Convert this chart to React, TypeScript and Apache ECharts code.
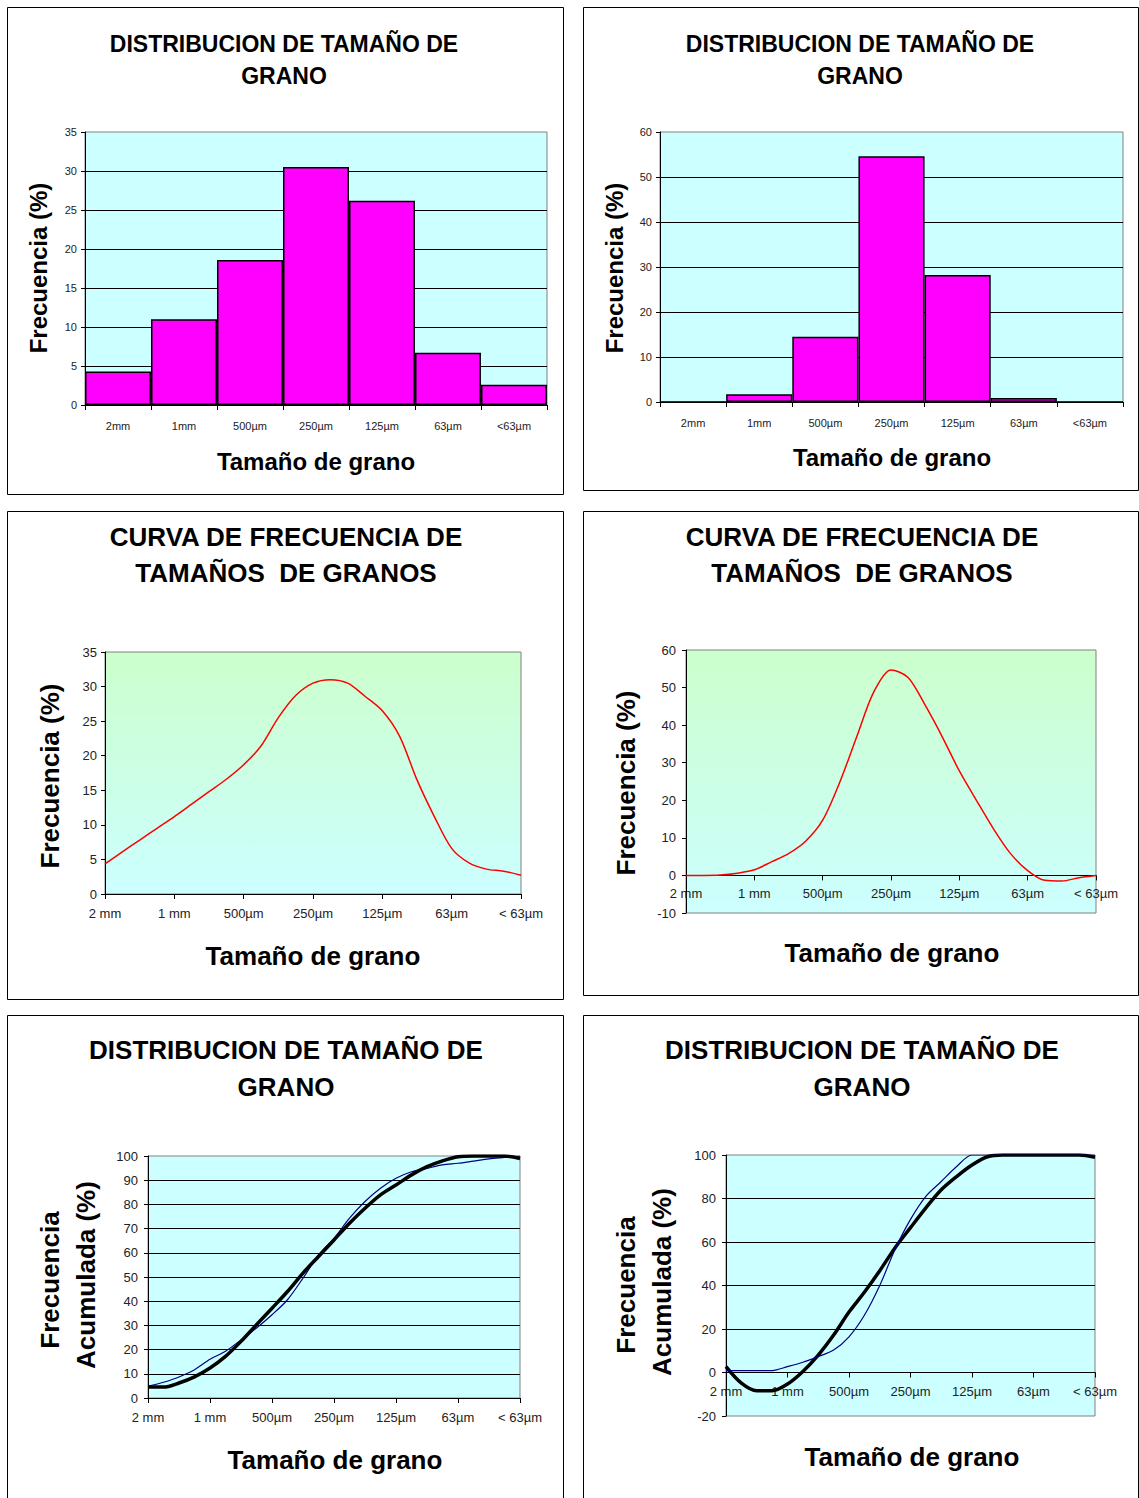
import React, { useEffect, useRef } from "react";
import * as echarts from "echarts";

const CATS_BAR = ["2mm", "1mm", "500µm", "250µm", "125µm", "63µm", "<63µm"];
const CATS_LINE = ["2 mm", "1 mm", "500µm", "250µm", "125µm", "63µm", "< 63µm"];

// bar heights (%)
const FREQ_A = [4.3, 11, 18.6, 30.5, 26.2, 6.7, 2.6];
const FREQ_B = [0, 1.7, 14.5, 54.6, 28.2, 0.9, 0];

// curve readings at quarter-category positions
const STEP_X = [0, 0.25, 0.5, 0.75, 1, 1.25, 1.5, 1.75, 2, 2.25, 2.5, 2.75, 3, 3.25, 3.5, 3.75, 4, 4.25, 4.5, 4.75, 5, 5.25, 5.5, 5.75, 6];
const RED_A = [4.35, 6.1, 7.8, 9.5, 11.2, 13.0, 14.8, 16.6, 18.7, 21.4, 25.5, 28.7, 30.5, 31.0, 30.5, 28.6, 26.5, 22.8, 16.5, 11.2, 6.6, 4.5, 3.6, 3.3, 2.7];
const RED_B = [0, 0, 0.1, 0.6, 1.5, 3.6, 5.8, 9.1, 14.7, 24.8, 37, 48.9, 54.7, 52.7, 45.3, 36.9, 27.8, 20, 12.4, 5.8, 1.3, -1.3, -1.5, -0.6, 0];
const BLUE_A = [4.8, 6.5, 8.7, 11.7, 16, 19.3, 24, 28.9, 34.4, 40.6, 49.5, 59.1, 66, 74.3, 81.2, 86.7, 90.8, 93.5, 94.9, 96.3, 97, 97.9, 98.8, 99.4, 100];
const BLUE_B = [0.9, 0.9, 0.9, 0.9, 2.7, 4.7, 7.3, 10.3, 16.4, 26.3, 40, 56.7, 70.4, 81, 87.8, 94.7, 100, 100, 100, 100, 100, 100, 100, 100, 100];
const TREND_A = [4.5, 4.5, 6.2, 8.7, 12.4, 17.2, 23.4, 30.3, 37.1, 44, 51.6, 58.5, 65.3, 72.2, 78.4, 83.9, 88, 92.2, 95.6, 98, 99.7, 100, 100, 100, 99];
const TREND_B = [2.7, -4.9, -8.4, -8.4, -5.3, 0.5, 8, 17.2, 27.8, 36.9, 46.8, 57.4, 66.6, 75.7, 84, 90.1, 95.4, 99.2, 100, 100, 100, 100, 100, 100, 99];

const FONT = '"Liberation Sans", Arial, sans-serif';

export default function App() {
  const ref = useRef<HTMLDivElement>(null);
  useEffect(() => {
    document.body.style.margin = "0";
    const chart = echarts.init(ref.current!, null, { renderer: "svg" });

    const grids = [
      { left: 85, top: 132, width: 462, height: 273 },
      { left: 660, top: 132, width: 463, height: 270 },
      { left: 105, top: 652, width: 416, height: 242 },
      { left: 686, top: 650, width: 410, height: 263 },
      { left: 148, top: 1156, width: 372, height: 242 },
      { left: 726, top: 1155, width: 369, height: 261 },
    ];
    const cyan = "#ccffff";
    const grad = () =>
      new echarts.graphic.LinearGradient(0, 0, 0, 1, [
        { offset: 0, color: "#ccffcc" },
        { offset: 1, color: "#ccffff" },
      ]);
    const bgs = [cyan, cyan, grad(), grad(), cyan, cyan];

    const grid = grids.map((g, i) => ({
      ...g,
      show: true,
      backgroundColor: bgs[i],
      borderColor: "#808080",
      borderWidth: 1,
      outerBoundsMode: "none",
    }));

    const axisLine = { show: true, onZero: false, lineStyle: { color: "#000", width: 1 } };
    const tick = { show: true, length: 4, lineStyle: { color: "#000" } };

    const barX = (gi: number, margin: number) => ({
      type: "category",
      gridIndex: gi,
      data: CATS_BAR,
      axisLine,
      axisTick: { show: true, length: 5, alignWithLabel: false, lineStyle: { color: "#000" } },
      axisLabel: { fontSize: 11, color: "#222", margin, fontFamily: FONT, interval: 0 },
      splitLine: { show: false },
    });
    // offset: distance (px) from grid bottom up to the zero line
    const lineX = (gi: number, margin: number, offset: number) => ({
      type: "value",
      gridIndex: gi,
      position: "bottom",
      offset: -offset,
      min: 0,
      max: 6,
      interval: 1,
      axisLine,
      axisTick: { show: true, length: 5, lineStyle: { color: "#000" } },
      axisLabel: {
        fontSize: 13,
        color: "#222",
        margin,
        fontFamily: FONT,
        formatter: (v: number) => CATS_LINE[Math.round(v)] ?? "",
        showMinLabel: true,
        showMaxLabel: true,
      },
      splitLine: { show: false },
    });
    const valY = (gi: number, min: number, max: number, interval: number, fontSize: number, margin: number, split: boolean) => ({
      type: "value",
      gridIndex: gi,
      min,
      max,
      interval,
      axisLine,
      axisTick: tick,
      axisLabel: { fontSize, color: "#222", margin, fontFamily: FONT },
      splitLine: { show: split, showMinLine: false, showMaxLine: false, lineStyle: { color: "#000", width: 1 } },
    });

    const z4 = (263 * 10) / 70;
    const z6 = (261 * 20) / 120;
    const xAxis = [barX(0, 15), barX(1, 15), lineX(2, 13, 0), lineX(3, 12, z4), lineX(4, 13, 0), lineX(5, 12, z6)];
    const yAxis = [
      valY(0, 0, 35, 5, 11, 8, true),
      valY(1, 0, 60, 10, 11, 8, true),
      valY(2, 0, 35, 5, 13, 8, false),
      valY(3, -10, 60, 10, 13, 10, false),
      valY(4, 0, 100, 10, 13, 10, true),
      valY(5, -20, 100, 20, 13, 10, true),
    ];

    const barStyle = { color: "#ff00ff", borderColor: "#000", borderWidth: 1.5 };
    const q = (arr: number[]) => arr.map((v, i) => [STEP_X[i], v]);
    const line = (xi: number, data: number[], color: string, width: number) => ({
      type: "line",
      xAxisIndex: xi,
      yAxisIndex: xi,
      data: q(data),
      smooth: 0.3,
      showSymbol: false,
      lineStyle: { color, width },
    });

    const series: any[] = [
      { type: "bar", xAxisIndex: 0, yAxisIndex: 0, data: FREQ_A, barCategoryGap: "0%", itemStyle: barStyle },
      { type: "bar", xAxisIndex: 1, yAxisIndex: 1, data: FREQ_B, barCategoryGap: "0%", itemStyle: barStyle },
      line(2, RED_A, "#ff0000", 1.5),
      line(3, RED_B, "#ff0000", 1.5),
      line(4, BLUE_A, "#000080", 1.2),
      line(4, TREND_A, "#000", 3.5),
      line(5, TREND_B, "#000", 3.5),
      line(5, BLUE_B, "#000080", 1.2),
    ];

    const txt = (x: number, y: number, text: string, size: number, rot = 0) => ({
      type: "text",
      x,
      y,
      rotation: rot,
      style: {
        text,
        font: `bold ${size}px ${FONT}`,
        fill: "#000",
        textAlign: "center",
        textVerticalAlign: "middle",
      },
    });
    const box = (x: number, y: number, w: number, h: number) => ({
      type: "rect",
      shape: { x: x + 0.5, y: y + 0.5, width: w, height: h },
      style: { fill: "none", stroke: "#000", lineWidth: 1 },
    });
    const R = Math.PI / 2;

    const graphic = [
      box(7, 7, 556, 487),
      box(583, 7, 555, 483),
      box(7, 511, 556, 488),
      box(583, 511, 555, 484),
      box(7, 1015, 556, 500),
      box(583, 1015, 555, 500),
      // panel 1
      txt(284, 44, "DISTRIBUCION DE TAMAÑO DE", 23),
      txt(284, 76, "GRANO", 23),
      txt(316, 461, "Tamaño de grano", 24),
      txt(38, 268, "Frecuencia (%)", 24, R),
      // panel 2
      txt(860, 44, "DISTRIBUCION DE TAMAÑO DE", 23),
      txt(860, 76, "GRANO", 23),
      txt(892, 457, "Tamaño de grano", 24),
      txt(614, 268, "Frecuencia (%)", 24, R),
      // panel 3
      txt(286, 537, "CURVA DE FRECUENCIA DE", 26),
      txt(286, 573, "TAMAÑOS  DE GRANOS", 26),
      txt(313, 956, "Tamaño de grano", 26),
      txt(50, 776, "Frecuencia (%)", 26, R),
      // panel 4
      txt(862, 537, "CURVA DE FRECUENCIA DE", 26),
      txt(862, 573, "TAMAÑOS  DE GRANOS", 26),
      txt(892, 953, "Tamaño de grano", 26),
      txt(626, 783, "Frecuencia (%)", 26, R),
      // panel 5
      txt(286, 1050, "DISTRIBUCION DE TAMAÑO DE", 26),
      txt(286, 1087, "GRANO", 26),
      txt(335, 1460, "Tamaño de grano", 26),
      txt(50, 1280, "Frecuencia", 26, R),
      txt(86, 1275, "Acumulada (%)", 26, R),
      // panel 6
      txt(862, 1050, "DISTRIBUCION DE TAMAÑO DE", 26),
      txt(862, 1087, "GRANO", 26),
      txt(912, 1457, "Tamaño de grano", 26),
      txt(626, 1285, "Frecuencia", 26, R),
      txt(662, 1282, "Acumulada (%)", 26, R),
    ];

    chart.setOption({
      animation: false,
      backgroundColor: "#fff",
      textStyle: { fontFamily: FONT },
      grid,
      xAxis,
      yAxis,
      series,
      graphic,
    } as any);
    return () => chart.dispose();
  }, []);
  return (
    <div
      ref={ref}
      style={{ position: "absolute", left: 0, top: 0, width: 1139, height: 1498 }}
    />
  );
}
